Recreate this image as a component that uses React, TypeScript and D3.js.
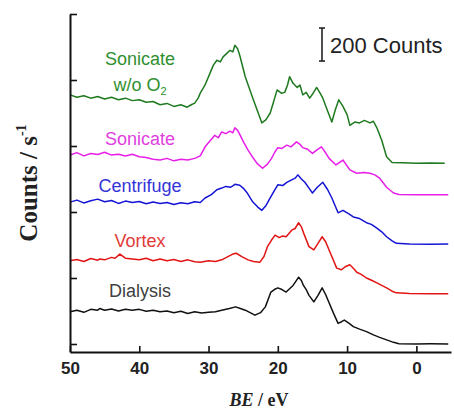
import React, { useEffect, useRef } from 'react';
import * as d3 from 'd3';

type Pt = [number, number];

// spectra: [binding energy / eV, counts incl. stacking offset]
const dialysis: Pt[] = [[50,195],[49,205],[48,192],[47,210],[46,205],[45.7,215],[45,205],[44,212],[43,200],[42,210],[41,205],[40,210],[39,198],[38,205],[37,195],[36,200],[35,190],[34,198],[33,185],[32,195],[31,188],[30,192],[29,195],[28.1,205],[27,215],[26.1,225],[25.4,215],[24.7,205],[24,190],[23.3,175],[22.5,190],[21.8,225],[21.4,270],[21,315],[20.5,330],[20,340],[19.4,330],[18.8,315],[18.3,335],[17.8,355],[17.4,380],[17,405],[16.6,385],[16.3,355],[15.9,330],[15.5,295],[14.8,255],[14.2,295],[13.6,340],[13.1,300],[12.6,250],[12,190],[11.3,125],[10.8,135],[10.4,145],[9.7,125],[9.1,105],[8.2,90],[7.2,75],[6.2,55],[5.3,40],[4.3,25],[3.3,10],[2.5,2],[0,0],[-2,1],[-4.6,0]];
const vortex: Pt[] = [[50,505],[49,512],[48,500],[47,518],[46,508],[45.7,515],[45,510],[44,525],[43.5,520],[42.8,545],[42,520],[41,515],[40,510],[39,520],[38,505],[37,515],[36,505],[35,512],[34,500],[33,510],[32,498],[31.2,495],[30,505],[29,500],[28.1,510],[27.2,530],[26.5,545],[26,550],[25.2,530],[24.3,510],[23.5,500],[22.6,495],[22,530],[21.5,590],[20.9,630],[20.4,660],[19.8,645],[19.3,655],[18.8,650],[18,690],[17.5,700],[17,735],[16.6,710],[16.3,675],[15.5,590],[14.8,570],[14.2,610],[13.6,650],[13.1,620],[12.6,570],[11.5,460],[10.8,450],[10.2,470],[9.6,480],[9,455],[8.6,435],[7.9,420],[7.2,400],[6.4,385],[5.7,370],[5,355],[4.3,340],[3.5,320],[2.9,310],[1,306],[-2,305],[-4.6,305]];
const centrifuge: Pt[] = [[50,860],[49,872],[48,855],[47,868],[46,878],[45,862],[44,870],[43,852],[42,866],[41,858],[40,864],[39,850],[38,860],[37,852],[36,858],[35,845],[34,856],[33,850],[32,862],[31.2,858],[30.5,885],[29.6,905],[28.8,935],[28.1,945],[27.5,955],[26.8,950],[26.2,968],[25.5,962],[25,945],[24.5,920],[23.6,860],[22.9,830],[22.3,810],[21.7,840],[21.1,885],[20.5,930],[20,965],[19.3,960],[18.7,980],[18,995],[17.5,1005],[17.1,1025],[16.6,1000],[16.1,980],[15.5,945],[15,915],[14.3,950],[13.5,980],[12.8,935],[12.2,885],[11.3,795],[10.6,810],[9.8,790],[9.1,770],[8.2,760],[7.2,735],[6.5,725],[5.8,705],[5,680],[4.3,650],[3.5,625],[2.9,610],[1,606],[-2,605],[-4.6,606]];
const sonicate: Pt[] = [[50,1145],[49,1160],[48,1140],[47,1155],[46,1148],[45,1162],[44,1145],[43,1150],[42,1140],[41,1150],[40,1135],[39,1130],[38,1120],[37,1115],[36,1125],[35,1110],[34,1120],[33,1115],[32,1125],[31.2,1140],[30.5,1195],[29.8,1230],[29.1,1265],[28.6,1250],[28.1,1285],[27.5,1275],[26.9,1290],[26.5,1280],[26.2,1310],[25.8,1295],[25.5,1270],[24.9,1220],[24.3,1175],[23.6,1130],[23,1095],[22.2,1065],[21.5,1090],[20.9,1125],[20.4,1165],[20,1190],[19.4,1185],[18.7,1205],[18.1,1195],[17.3,1225],[16.8,1210],[16.4,1190],[15.7,1180],[15,1155],[14.4,1175],[13.7,1195],[13.2,1165],[12.6,1125],[11.6,1085],[10.6,1115],[9.6,1055],[8.6,1035],[7.6,1040],[6.7,1035],[6,1025],[5.3,1005],[4.3,950],[3.3,915],[2.5,906],[0,905],[-2,904],[-4.6,905]];
const sonicateNoO2: Pt[] = [[50,1510],[49,1495],[48,1505],[47,1490],[46,1500],[45,1485],[44,1495],[43,1480],[42,1490],[41,1475],[40,1480],[39,1465],[38,1470],[37,1450],[36,1458],[35,1440],[34,1450],[33.1,1435],[32.5,1450],[32,1460],[31.5,1490],[31.2,1520],[30.5,1570],[29.8,1640],[29.3,1690],[28.8,1720],[28.3,1710],[27.9,1740],[27.4,1760],[26.9,1780],[26.5,1770],[26.2,1810],[25.8,1790],[25.5,1750],[24.7,1620],[23.7,1500],[23,1420],[22.3,1340],[21.7,1360],[21.1,1400],[20.6,1470],[20.1,1540],[19.5,1520],[19,1525],[18.6,1570],[18.3,1620],[17.8,1580],[17.2,1555],[16.8,1570],[16.4,1510],[15.9,1525],[15.4,1490],[14.9,1520],[14.4,1555],[13.9,1520],[13.5,1490],[12.8,1410],[12.2,1345],[11.7,1420],[11.2,1480],[10.6,1440],[10,1390],[9.6,1325],[8.9,1345],[8.2,1340],[7.5,1355],[6.7,1340],[6.2,1350],[5.7,1310],[5,1235],[4.3,1135],[3.5,1100],[2,1098],[0,1096],[-2,1097],[-4.1,1095]];

const seriesNames = ['Dialysis', 'Vortex', 'Centrifuge', 'Sonicate', 'Sonicate w/o O2'];
const seriesData = [dialysis, vortex, centrifuge, sonicate, sonicateNoO2];
const lineColors = ['#111111', '#e31414', '#1414d6', '#e81ee8', '#1f7a1f'];
const labelColors = ['#404040', '#e23a3a', '#3434d8', '#e040e0', '#2f8f2f'];
// baseline of each label, in counts
const labelLevels = [285, 590, 920, 1205, 1690];

const xMajor = [50, 40, 30, 20, 10, 0];
const xMinor = [45, 35, 25, 15, 5, -5];
const yMajor = [0, 400, 800, 1200, 1600, 2000];
const yMinor = [200, 600, 1000, 1400, 1800];
const scaleBar = { from: 1715, size: 200, label: '200 Counts' };

const W = 454;
const H = 413;

export default function App() {
  const svgRef = useRef<SVGSVGElement>(null);

  useEffect(() => {
    if (!svgRef.current) return;
    const svg = d3.select(svgRef.current);
    svg.selectAll('*').remove();

    const x = d3.scaleLinear().domain([50, -5]).range([70, 451]);
    const y = d3.scaleLinear().domain([-48.5, 2000]).range([352, 14]);

    const sans = 'Arial, "Liberation Sans", sans-serif';
    const serif = '"Times New Roman", "Liberation Serif", serif';

    const line = d3.line<Pt>().x(d => x(d[0])).y(d => y(d[1]));

    svg.append('g')
      .selectAll('path')
      .data(seriesData)
      .join('path')
      .attr('d', d => line(d))
      .attr('fill', 'none')
      .attr('stroke', (_, i) => lineColors[i])
      .attr('stroke-width', 1.5)
      .attr('stroke-linejoin', 'round');

    // axes, ticks pointing inward
    const gx = svg.append('g').attr('transform', `translate(0,${y(-48.5)})`);
    gx.call(d3.axisBottom(x).tickValues(xMinor).tickSizeInner(-3).tickSizeOuter(0).tickFormat(() => ''));
    gx.call(d3.axisBottom(x).tickValues(xMajor).tickSizeInner(-6).tickSizeOuter(0).tickPadding(10).tickFormat(d3.format('d')));
    gx.selectAll('text')
      .style('font-family', sans)
      .style('font-weight', 'bold')
      .style('font-size', '17px')
      .attr('fill', '#222');

    const gy = svg.append('g').attr('transform', `translate(${x(50)},0)`);
    gy.call(d3.axisLeft(y).tickValues(yMinor).tickSizeInner(-4).tickSizeOuter(0).tickFormat(() => ''));
    gy.call(d3.axisLeft(y).tickValues(yMajor).tickSizeInner(-7).tickSizeOuter(0).tickFormat(() => ''));

    svg.selectAll('.domain').attr('stroke', '#111').attr('stroke-width', 2);
    svg.selectAll('.tick line').attr('stroke', '#111').attr('stroke-width', 1.6);

    // series labels
    const labels = svg.append('g')
      .attr('font-family', sans)
      .attr('font-size', 18)
      .attr('text-anchor', 'middle');
    seriesNames.forEach((name, i) => {
      if (name.endsWith('O2')) {
        labels.append('text')
          .attr('x', 140).attr('y', y(labelLevels[i]))
          .attr('fill', labelColors[i])
          .text('Sonicate');
        const t = labels.append('text')
          .attr('x', 140).attr('y', y(labelLevels[i]) + 26)
          .attr('fill', labelColors[i]);
        t.append('tspan').text('w/o O');
        t.append('tspan').attr('font-size', 11).attr('dy', 4).text('2');
      } else {
        labels.append('text')
          .attr('x', 140).attr('y', y(labelLevels[i]))
          .attr('fill', labelColors[i])
          .text(name);
      }
    });

    // scale bar
    const sbx = 322;
    const sb = svg.append('g').attr('stroke', '#222').attr('stroke-width', 1.6);
    sb.append('line').attr('x1', sbx).attr('x2', sbx)
      .attr('y1', y(scaleBar.from)).attr('y2', y(scaleBar.from + scaleBar.size));
    [scaleBar.from, scaleBar.from + scaleBar.size].forEach(v => {
      sb.append('line').attr('x1', sbx - 3).attr('x2', sbx + 3).attr('y1', y(v)).attr('y2', y(v));
    });
    svg.append('text')
      .attr('x', sbx + 8).attr('y', y(scaleBar.from) - 8)
      .attr('font-family', sans).attr('font-size', 22).attr('fill', '#222')
      .text(scaleBar.label);

    // axis titles
    const xt = svg.append('text')
      .attr('x', 259).attr('y', 406)
      .attr('text-anchor', 'middle')
      .attr('font-family', serif).attr('font-weight', 'bold').attr('font-size', 18)
      .attr('fill', '#222');
    xt.append('tspan').attr('font-style', 'italic').text('BE');
    xt.append('tspan').text(' / eV');

    const yt = svg.append('text')
      .attr('transform', `translate(37,183) rotate(-90)`)
      .attr('text-anchor', 'middle')
      .attr('font-family', serif).attr('font-weight', 'bold').attr('font-size', 25)
      .attr('fill', '#222');
    yt.append('tspan').text('Counts / s');
    yt.append('tspan').attr('font-size', 14).attr('dy', -11).text('-1');
  }, []);

  return (
    <svg
      ref={svgRef}
      width={W}
      height={H}
      style={{ position: 'absolute', left: 0, top: 0, background: '#fff' }}
    />
  );
}
